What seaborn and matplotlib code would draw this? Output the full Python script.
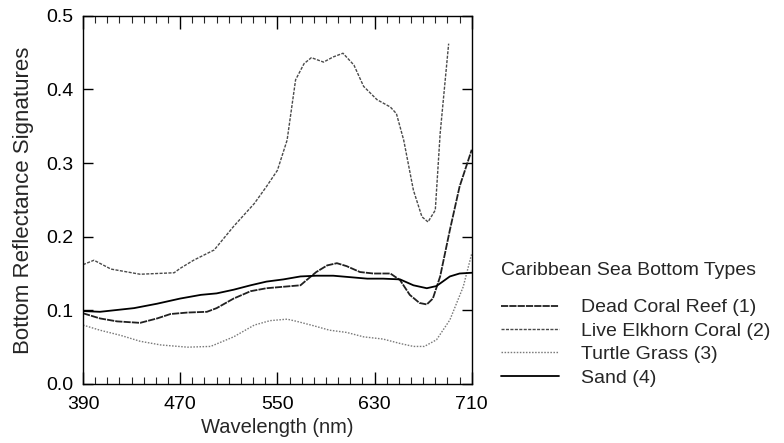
import numpy as np
import pandas as pd
import matplotlib
matplotlib.use("Agg")
import matplotlib.pyplot as plt
import seaborn as sns
from matplotlib.ticker import MultipleLocator

# ---- data ----
dead_x = [390, 404, 418, 437, 451, 462, 476, 492, 500, 514, 528, 541, 555, 569, 574, 582, 591, 599, 607, 618, 629, 643, 651, 659, 667, 673, 678, 684, 692, 700, 710]
dead_y = [0.096, 0.089, 0.085, 0.083, 0.089, 0.095, 0.097, 0.098, 0.103, 0.116, 0.126, 0.130, 0.132, 0.134, 0.141, 0.152, 0.161, 0.164, 0.160, 0.152, 0.150, 0.150, 0.141, 0.121, 0.110, 0.108, 0.116, 0.146, 0.209, 0.268, 0.318]

elk_x = [390, 399, 413, 437, 465, 470, 481, 498, 514, 531, 541, 550, 558, 565, 572, 578, 588, 596, 604, 613, 621, 632, 643, 648, 654, 662, 669, 674, 680, 684, 691]
elk_y = [0.162, 0.168, 0.156, 0.149, 0.151, 0.157, 0.168, 0.182, 0.214, 0.245, 0.268, 0.290, 0.331, 0.413, 0.435, 0.443, 0.437, 0.444, 0.449, 0.433, 0.404, 0.386, 0.376, 0.367, 0.331, 0.263, 0.227, 0.220, 0.236, 0.340, 0.462]

grass_x = [390, 404, 421, 437, 454, 476, 495, 514, 531, 544, 558, 566, 580, 593, 607, 621, 637, 651, 662, 671, 681, 692, 703, 710]
grass_y = [0.080, 0.073, 0.066, 0.058, 0.053, 0.050, 0.051, 0.064, 0.080, 0.086, 0.088, 0.085, 0.079, 0.073, 0.070, 0.064, 0.061, 0.055, 0.051, 0.051, 0.060, 0.087, 0.132, 0.177]

sand_x = [390, 404, 432, 451, 470, 487, 500, 514, 528, 541, 555, 569, 582, 596, 610, 624, 637, 651, 662, 673, 681, 692, 700, 710]
sand_y = [0.099, 0.098, 0.103, 0.109, 0.116, 0.121, 0.123, 0.128, 0.134, 0.139, 0.142, 0.146, 0.147, 0.147, 0.145, 0.143, 0.143, 0.142, 0.134, 0.130, 0.133, 0.146, 0.150, 0.151]

labels = ["Dead Coral Reef (1)", "Live Elkhorn Coral (2)", "Turtle Grass (3)", "Sand (4)"]
xticks = [390, 470, 550, 630, 710]
yticks = [0.0, 0.1, 0.2, 0.3, 0.4, 0.5]

frames = []
for lab, xs, ys in zip(labels, [dead_x, elk_x, grass_x, sand_x], [dead_y, elk_y, grass_y, sand_y]):
    frames.append(pd.DataFrame({"Wavelength": xs, "Reflectance": ys, "Type": lab}))
df = pd.concat(frames, ignore_index=True)

sns.set_theme(style="white")
plt.rcParams["font.family"] = ["Liberation Sans", "DejaVu Sans"]

FS = 14

fig = plt.figure(figsize=(7.84, 4.43), dpi=100)
ax = fig.add_axes([0.1059, 0.1332, 0.4958, 0.8314])

palette = {labels[0]: "#202020", labels[1]: "#4a4a4a", labels[2]: "#7a7a7a", labels[3]: "#000000"}
dashes = {labels[0]: (4, 0.6), labels[1]: (2.2, 1.0), labels[2]: (1.1, 1.1), labels[3]: ""}
sizes = {labels[0]: 1.3, labels[1]: 1.0, labels[2]: 1.0, labels[3]: 1.3}

sns.lineplot(data=df, x="Wavelength", y="Reflectance", hue="Type", style="Type",
             size="Type", sizes=sizes, palette=palette, dashes=dashes,
             hue_order=labels, style_order=labels, size_order=labels,
             sort=False, estimator=None, ax=ax)

ax.set_xlim(390, 710)
ax.set_ylim(0.0, 0.5)
ax.set_xticks(xticks)
ax.set_xticklabels([str(v) for v in xticks])
ax.set_yticks(yticks)
ax.set_yticklabels([f"{v:.1f}" for v in yticks])
ax.xaxis.set_minor_locator(MultipleLocator(10))
ax.tick_params(axis="x", which="major", direction="in", length=9, width=1, top=True, bottom=True,
               labelsize=FS, pad=9, colors="black")
ax.tick_params(axis="x", which="minor", direction="in", length=5, width=0.8, top=True, bottom=True)
ax.tick_params(axis="y", which="major", direction="in", length=7, width=1, left=True, right=True,
               labelsize=FS, pad=7, colors="black")
for s in ax.spines.values():
    s.set_color("black")
    s.set_linewidth(1.0)
ax.set_xlabel("Wavelength (nm)", fontsize=14.5, labelpad=3)
ax.set_ylabel("Bottom Reflectance Signatures", fontsize=16, labelpad=9)

handles, labs = ax.get_legend_handles_labels()
ax.legend(handles, labs, title="Caribbean Sea Bottom Types", loc="upper left",
          bbox_to_anchor=(0.639, 0.408), bbox_transform=fig.transFigure,
          frameon=False, fontsize=FS, title_fontsize=FS, handlelength=3.0,
          handletextpad=1.1, labelspacing=0.3, borderpad=0.0, borderaxespad=0.0,
          alignment="left")
leg = ax.get_legend()
leg._legend_box.sep = 14

fig.savefig("out.png", dpi=100)
